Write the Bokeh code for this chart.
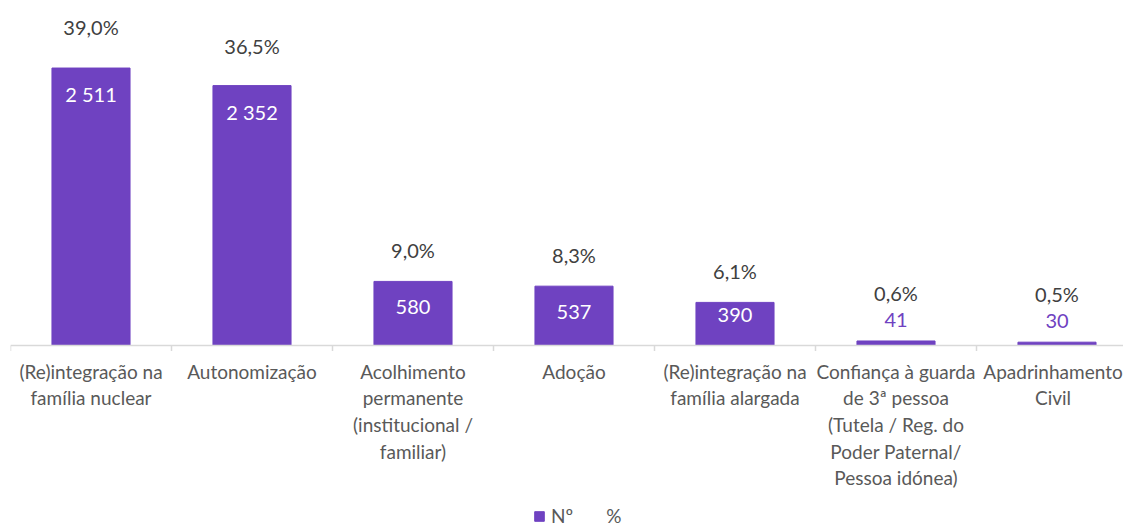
from bokeh.plotting import figure
from bokeh.models import Range1d, ColumnDataSource, Legend, LegendItem, Span
from bokeh.core.properties import value
from bokeh.embed import file_html
from bokeh.resources import INLINE

categories = [
    "(Re)integração na\nfamília nuclear",
    "Autonomização",
    "Acolhimento\npermanente\n(institucional /\nfamiliar)",
    "Adoção",
    "(Re)integração na\nfamília alargada",
    "Confiança à guarda\nde 3ª pessoa\n(Tutela / Reg. do\nPoder Paternal/\nPessoa idónea)",
    "Apadrinhamento\nCivil",
]
counts = [2511, 2352, 580, 537, 390, 41, 30]
percents = [39.0, 36.5, 9.0, 8.3, 6.1, 0.6, 0.5]
series_names = ["Nº", "%"]

PURPLE = "#6F42C1"
FONT = "Lato"
GRID = "#D9D9D9"

n = len(categories)
xs = list(range(n))

# layout constants (pixels)
W, H = 1123, 529
LEFT = 10
AXIS_PX = 345          # axis line distance from top
K = 0.1105             # px per count unit
CAT_W = 161
FRAME_W = W - LEFT

count_txt = [f"{v:,}".replace(",", " ") for v in counts]
pct_txt = [f"{v:.1f}".replace(".", ",") + "%" for v in percents]

num_y, num_col, pct_y = [], [], []
for c, pc in zip(counts, percents):
    h = c * K
    lin = (28.8 + 7.416 * pc) / K
    if h > 50:
        ny = c - 26 / K
        col = "white"
        py = lin
    elif h > 25:
        ny = c - 13 / K
        col = "white"
        py = lin
    else:
        ny = c + 21 / K
        col = PURPLE
        py = max(lin, ny + 27 / K)
    num_y.append(ny)
    num_col.append(col)
    pct_y.append(py)

# keep the last (edge) category label inside the canvas
cat_dx = [0] * (n - 1) + [-4]

src = ColumnDataSource(dict(x=xs, count=counts, ny=num_y, ncol=num_col,
                            ntxt=count_txt, py=pct_y, ptxt=pct_txt,
                            cat=categories, cy=[-14 / K] * n, cdx=cat_dx))

p = figure(width=W, height=H,
           x_range=Range1d(-0.5, -0.5 + FRAME_W / CAT_W),
           y_range=Range1d(-(H - AXIS_PX) / K, AXIS_PX / K),
           output_backend="svg", toolbar_location=None,
           x_axis_location=None, y_axis_location=None,
           min_border_left=LEFT, min_border_right=0, min_border_top=0,
           min_border_bottom=0)
p.outline_line_color = None
p.xgrid.visible = False
p.ygrid.visible = False

bars = p.vbar(x="x", top="count", width=0.485, source=src,
              fill_color=PURPLE, line_color=PURPLE)
pct_line = p.line(x="x", y="py", source=src, line_alpha=0)

# category axis: baseline, boundary ticks, labels
p.add_layout(Span(location=0, dimension="width", line_color=GRID, line_width=1.5))
bounds = [i - 0.5 for i in range(n + 1)]
p.segment(x0=bounds, y0=[0] * len(bounds), x1=bounds, y1=[-5.5 / K] * len(bounds),
          line_color=GRID, line_width=1.5)
p.text(x="x", y="cy", text="cat", source=src, text_color="#595959",
       x_offset="cdx",
       text_align="center", text_baseline="top", text_line_height=1.16,
       text_font=value(FONT), text_font_size="19px")

p.text(x="x", y="ny", text="ntxt", source=src, text_color="ncol",
       text_align="center", text_baseline="middle",
       text_font=value(FONT), text_font_size="20px")
p.text(x="x", y="py", text="ptxt", source=src, text_color="#404040",
       text_align="center", text_baseline="middle",
       text_font=value(FONT), text_font_size="20px")

legend = Legend(items=[LegendItem(label=series_names[0], renderers=[bars]),
                       LegendItem(label=series_names[1], renderers=[pct_line])],
                orientation="horizontal", location=(523, 2),
                border_line_color=None, background_fill_alpha=0,
                label_text_font=FONT, label_text_font_size="19px",
                label_text_color="#595959", glyph_width=12, glyph_height=12,
                spacing=15, padding=0, margin=0, label_standoff=6)
p.add_layout(legend, "center")

open("out.html", "w").write(file_html(p, INLINE))
